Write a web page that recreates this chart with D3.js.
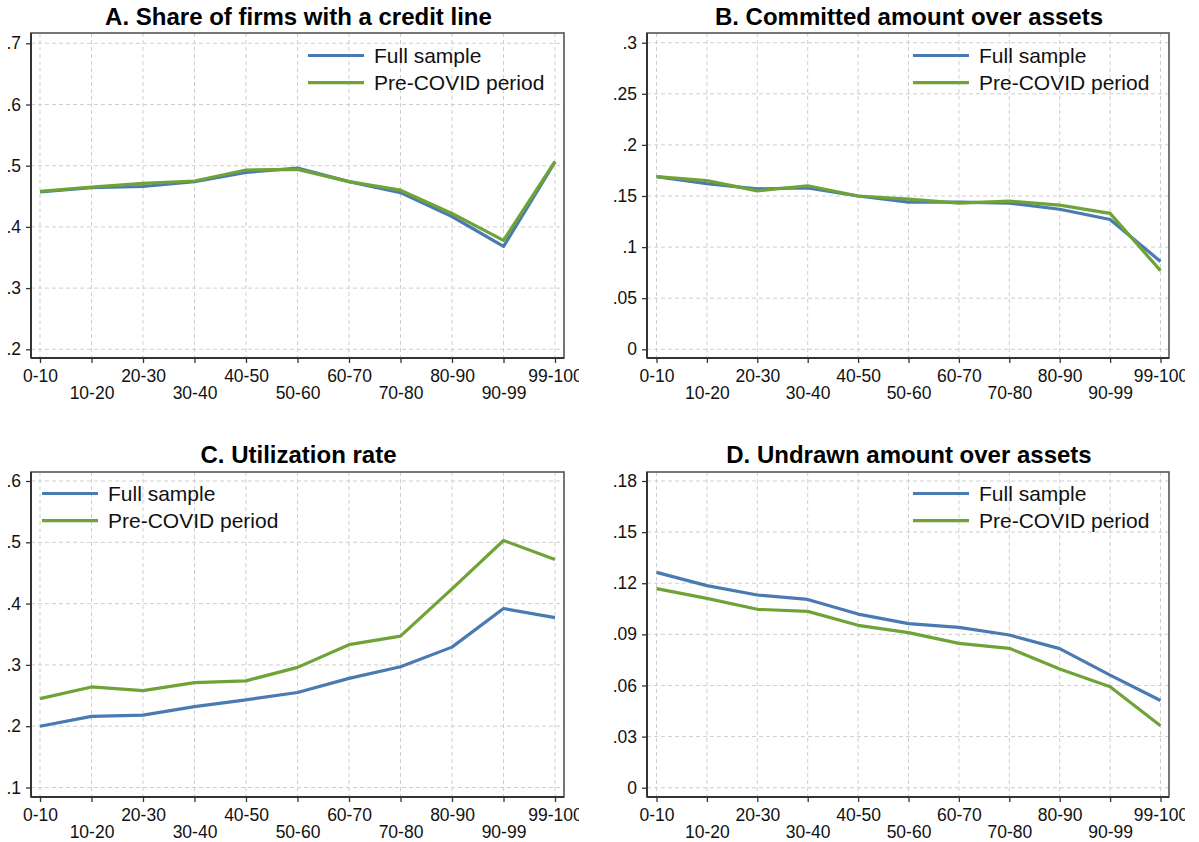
<!DOCTYPE html>
<html>
<head>
<meta charset="utf-8">
<script src="https://cdn.jsdelivr.net/npm/d3@7"></script>
<style>
  html, body { margin: 0; padding: 0; background: #fff; }
  svg { display: block; font-family: "Liberation Sans", Arial, Helvetica, sans-serif; }
</style>
</head>
<body>
<svg id="chart" width="1199" height="842"></svg>
<script>
// Size buckets of the firm distribution (percentiles)
const categories = ["0-10", "10-20", "20-30", "30-40", "40-50", "50-60", "60-70", "70-80", "80-90", "90-99", "99-100"];

const seriesNames = ["Full sample", "Pre-COVID period"];

// A. Share of firms with a credit line
const shareFull   = [0.457, 0.464, 0.466, 0.474, 0.489, 0.496, 0.474, 0.456, 0.417, 0.368, 0.506];
const sharePre    = [0.458, 0.465, 0.471, 0.475, 0.493, 0.494, 0.474, 0.460, 0.422, 0.378, 0.507];

// B. Committed amount over assets
const committedFull = [0.169, 0.162, 0.157, 0.158, 0.150, 0.144, 0.144, 0.143, 0.137, 0.127, 0.086];
const committedPre  = [0.169, 0.165, 0.155, 0.160, 0.150, 0.147, 0.143, 0.145, 0.141, 0.133, 0.077];

// C. Utilization rate
const utilFull = [0.200, 0.216, 0.218, 0.232, 0.243, 0.255, 0.278, 0.297, 0.329, 0.392, 0.377];
const utilPre  = [0.245, 0.264, 0.258, 0.271, 0.274, 0.296, 0.333, 0.347, 0.424, 0.503, 0.472];

// D. Undrawn amount over assets
const undrawnFull = [0.1264, 0.1186, 0.1131, 0.1105, 0.1019, 0.0963, 0.0941, 0.0896, 0.0816, 0.0661, 0.0512];
const undrawnPre  = [0.1168, 0.1111, 0.1047, 0.1035, 0.0953, 0.0910, 0.0847, 0.0818, 0.0697, 0.0593, 0.0364];

// Y-axis ticks and their labels
const ticksA = [0.2, 0.3, 0.4, 0.5, 0.6, 0.7];
const tickLabelsA = [".2", ".3", ".4", ".5", ".6", ".7"];
const ticksB = [0, 0.05, 0.1, 0.15, 0.2, 0.25, 0.3];
const tickLabelsB = ["0", ".05", ".1", ".15", ".2", ".25", ".3"];
const ticksC = [0.1, 0.2, 0.3, 0.4, 0.5, 0.6];
const tickLabelsC = [".1", ".2", ".3", ".4", ".5", ".6"];
const ticksD = [0, 0.03, 0.06, 0.09, 0.12, 0.15, 0.18];
const tickLabelsD = ["0", ".03", ".06", ".09", ".12", ".15", ".18"];

const titles = [
  "A. Share of firms with a credit line",
  "B. Committed amount over assets",
  "C. Utilization rate",
  "D. Undrawn amount over assets"
];

const colors = ["#4a7ab2", "#70a337"];

const panels = [
  { title: titles[0], series: [shareFull, sharePre], ticks: ticksA, labels: tickLabelsA,
    box: { left: 31, right: 564, top: 33, bottom: 358 }, xr: [40, 555], yr: [349.3, 43.3],
    clipRight: 579, titleY: 25, legend: { x: 308, y: 55.5 } },
  { title: titles[1], series: [committedFull, committedPre], ticks: ticksB, labels: tickLabelsB,
    box: { left: 647, right: 1169, top: 33, bottom: 358 }, xr: [656.5, 1160.5], yr: [349.3, 42.7],
    clipRight: 1185, titleY: 25, legend: { x: 913, y: 55.5 } },
  { title: titles[2], series: [utilFull, utilPre], ticks: ticksC, labels: tickLabelsC,
    box: { left: 31, right: 564, top: 472, bottom: 797 }, xr: [40, 555], yr: [787.5, 481],
    clipRight: 579, titleY: 463, legend: { x: 42, y: 493.5 } },
  { title: titles[3], series: [undrawnFull, undrawnPre], ticks: ticksD, labels: tickLabelsD,
    box: { left: 647, right: 1169, top: 472, bottom: 797 }, xr: [656.5, 1160.5], yr: [787.7, 481],
    clipRight: 1185, titleY: 463, legend: { x: 913, y: 493.5 } }
];

const svg = d3.select("#chart");
const defs = svg.append("defs");

panels.forEach((p, i) => {
  const clipId = "clip-panel-" + i;
  defs.append("clipPath").attr("id", clipId)
    .append("rect")
    .attr("x", p.box.left - 40).attr("y", p.box.top - 40)
    .attr("width", p.clipRight - (p.box.left - 40))
    .attr("height", p.box.bottom - p.box.top + 100);

  const g = svg.append("g").attr("clip-path", `url(#${clipId})`);

  const x = d3.scalePoint().domain(categories).range(p.xr);
  const y = d3.scaleLinear()
    .domain([p.ticks[0], p.ticks[p.ticks.length - 1]])
    .range(p.yr);

  // Title
  svg.append("text")
    .attr("x", (p.box.left + p.box.right) / 2 + 1)
    .attr("y", p.titleY)
    .attr("text-anchor", "middle")
    .attr("font-size", 24)
    .attr("font-weight", "bold")
    .attr("fill", "#000")
    .text(p.title);

  // Gridlines
  const grid = g.append("g")
    .attr("stroke", "#cfcfcf")
    .attr("stroke-width", 1)
    .attr("stroke-dasharray", "4,3");
  grid.selectAll("line.h").data(p.ticks).join("line")
    .attr("class", "h")
    .attr("x1", p.box.left).attr("x2", p.box.right)
    .attr("y1", d => y(d)).attr("y2", d => y(d));
  grid.selectAll("line.v").data(categories).join("line")
    .attr("class", "v")
    .attr("x1", d => x(d)).attr("x2", d => x(d))
    .attr("y1", p.box.top).attr("y2", p.box.bottom);

  // Plot frame
  g.append("rect")
    .attr("x", p.box.left).attr("y", p.box.top)
    .attr("width", p.box.right - p.box.left)
    .attr("height", p.box.bottom - p.box.top)
    .attr("fill", "none")
    .attr("stroke", "#555")
    .attr("stroke-width", 1.6);

  // Y axis
  const yAxis = d3.axisLeft(y)
    .tickValues(p.ticks)
    .tickSize(5)
    .tickPadding(5)
    .tickFormat((d, k) => p.labels[k]);
  const ya = g.append("g")
    .attr("transform", `translate(${p.box.left},0)`)
    .call(yAxis);
  ya.select(".domain")
    .attr("d", `M0,${p.box.top}V${p.box.bottom}`)
    .attr("stroke", "#333").attr("stroke-width", 2);
  ya.selectAll(".tick line").attr("stroke", "#333").attr("stroke-width", 1.3);
  ya.selectAll(".tick text")
    .attr("font-size", 17.5)
    .attr("font-family", "Liberation Sans, Arial, sans-serif")
    .attr("fill", "#111");

  // X axis with alternating label rows
  const xAxis = d3.axisBottom(x)
    .tickSize(5)
    .tickPadding(0)
    .tickFormat(d => d);
  const xa = g.append("g")
    .attr("transform", `translate(0,${p.box.bottom})`)
    .call(xAxis);
  xa.select(".domain")
    .attr("d", `M${p.box.left},0H${p.box.right}`)
    .attr("stroke", "#333").attr("stroke-width", 2);
  xa.selectAll(".tick line").attr("stroke", "#333").attr("stroke-width", 1.3);
  xa.selectAll(".tick text")
    .attr("font-size", 17.5)
    .attr("font-family", "Liberation Sans, Arial, sans-serif")
    .attr("fill", "#111")
    .attr("dy", null)
    .attr("y", (d, k) => (k % 2 === 0 ? 23.5 : 41));

  // Series lines (full sample first, pre-COVID on top)
  const line = d3.line()
    .x((d, k) => x(categories[k]))
    .y(d => y(d));
  p.series.forEach((vals, s) => {
    g.append("path")
      .datum(vals)
      .attr("fill", "none")
      .attr("stroke", colors[s])
      .attr("stroke-width", 3.2)
      .attr("stroke-linejoin", "round")
      .attr("d", line);
  });

  // Legend
  const lg = svg.append("g").attr("transform", `translate(${p.legend.x},${p.legend.y})`);
  seriesNames.forEach((name, s) => {
    const yy = s * 27.2;
    lg.append("line")
      .attr("x1", 0).attr("x2", 56)
      .attr("y1", yy).attr("y2", yy)
      .attr("stroke", colors[s]).attr("stroke-width", 3.2);
    lg.append("text")
      .attr("x", 66).attr("y", yy + 7.5)
      .attr("font-size", 21)
      .attr("fill", "#111")
      .text(name);
  });
});
</script>
</body>
</html>
